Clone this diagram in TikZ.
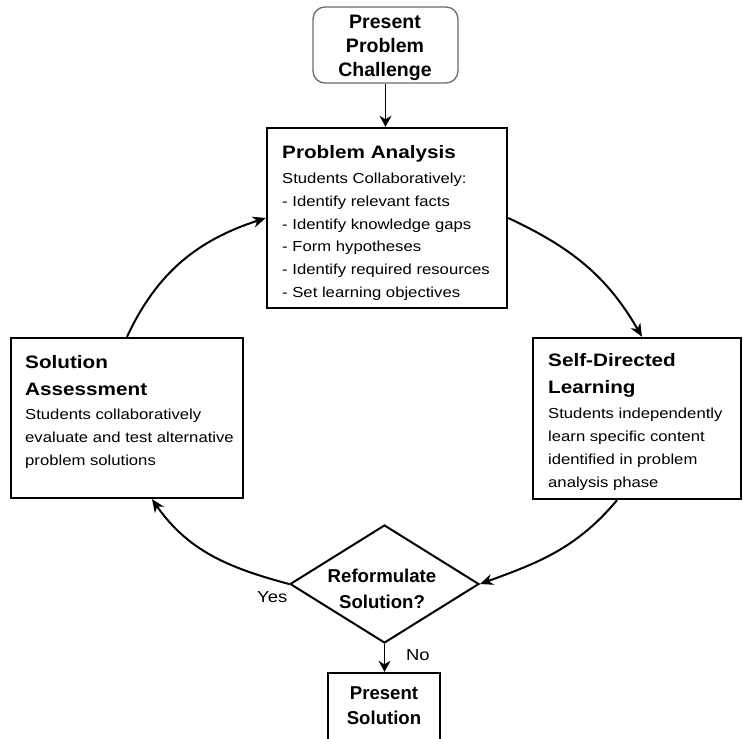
\documentclass[tikz,border=0pt]{standalone}
\usepackage{fontspec}
\setmainfont{Liberation Sans}[FakeStretch=1.15]
\newfontfamily\plainsf{Liberation Sans}
\usetikzlibrary{shapes.geometric,arrows.meta}
\tikzset{
  box/.style={draw=black, line width=2.4pt, inner sep=0pt, fill=white},
  startbox/.style={draw=gray!85!black, line width=1.3pt, rounded corners=12pt, inner sep=0pt},
  decision/.style={diamond, draw=black, line width=2pt, inner sep=0pt},
  ttl/.style={anchor=north west, inner sep=0pt, align=left, font=\bfseries\fontsize{18}{26.5}\selectfont},
  bodytxt/.style={anchor=north west, inner sep=0pt, align=left, font=\fontsize{14.5}{22.8}\selectfont},
  ctrtxt/.style={anchor=north, inner sep=0pt, align=center},
  lbl/.style={anchor=base west, inner sep=0pt, font=\fontsize{16}{19}\selectfont},
  conn/.style={line width=2pt, -{Stealth[length=13pt,width=11pt,inset=4pt]}},
  thinconn/.style={line width=1.4pt, -{Stealth[length=11pt,width=12pt,inset=3.5pt]}}
}
\begin{document}
\begin{tikzpicture}[x=1pt,y=1pt]
\useasboundingbox (0,0) rectangle (743,-738);
\clip (0,0) rectangle (743,-738);
\fill[white] (0,0) rectangle (743,-738);

% boxes
\node[startbox, minimum width=145pt, minimum height=76pt] (ppc) at (385.5,-45) {};
\node[box, minimum width=240pt, minimum height=180pt] (pa) at (387,-218) {};
\node[box, minimum width=232pt, minimum height=160pt] (sa) at (127,-418) {};
\node[box, minimum width=208pt, minimum height=161pt] (sdl) at (637,-418.5) {};
\node[decision, minimum width=189pt, minimum height=118pt] (dia) at (384.5,-584) {};
\node[box, minimum width=112pt, minimum height=87pt] (ps) at (384,-716.5) {};

% texts
\node[ctrtxt, font=\plainsf\bfseries\fontsize{19.5}{24}\selectfont] (ppct) at (385,-15) {Present\\Problem\\Challenge};

\node[anchor=base west, inner sep=0pt, font=\bfseries\fontsize{18}{26.5}\selectfont] (pat) at (282,-158.4) {Problem Analysis};
\node[bodytxt] (pab) at (282,-172.8) {Students Collaboratively:\\- Identify relevant facts\\- Identify knowledge gaps\\- Form hypotheses\\- Identify required resources\\- Set learning objectives};

\node[ttl] (sat) at (25,-355.4) {Solution\\Assessment};
\node[bodytxt] (sab) at (25,-408.8) {Students collaboratively\\evaluate and test alternative\\problem solutions};

\node[ttl, font=\bfseries\fontsize{18}{27}\selectfont] (sdlt) at (548,-353.5) {Self-Directed\\Learning};
\node[bodytxt, font=\fontsize{14.5}{23}\selectfont] (sdlb) at (548,-407.8) {Students independently\\learn specific content\\identified in problem\\analysis phase};

\node[ctrtxt, font=\plainsf\bfseries\fontsize{18.6}{26}\selectfont] (diat) at (382,-569.3) {Reformulate\\Solution?};
\node[ctrtxt, font=\plainsf\bfseries\fontsize{18.6}{25}\selectfont] (pst) at (384,-686.3) {Present\\Solution};

\node[lbl] (yes) at (257,-602.7) {Yes};
\node[lbl] (no) at (406,-660.7) {No};

% connectors
\draw[thinconn] (ppc.south) -- (ppc.south |- pa.north);
\draw[conn] (pa.east) to[out=-25, in=120] ([xshift=5pt]sdl.north);
\draw[conn] ([xshift=-20pt]sdl.south) to[out=-130, in=20] (dia.east);
\draw[conn] (dia.west) to[out=165, in=-55] ([xshift=25pt]sa.south);
\draw[conn] (sa.north) to[out=65, in=198] (pa.west);
\draw[thinconn] (dia.south) -- (dia.south |- ps.north);
\end{tikzpicture}
\end{document}
